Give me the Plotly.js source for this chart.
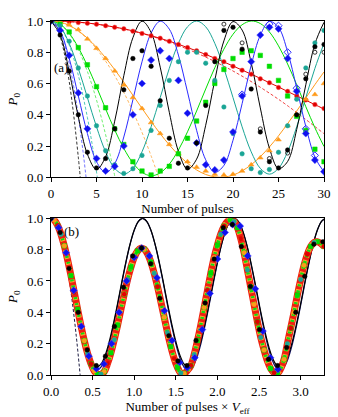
<!DOCTYPE html>
<html><head><meta charset="utf-8">
<script src="https://cdn.plot.ly/plotly-3.0.1.min.js"></script>
<style>html,body{margin:0;padding:0;background:#fff;}#chart{width:338px;height:417px;}</style>
</head><body><div id="chart"></div>
<script>
// ---------- Panel (a): number of pulses ----------
const pulses = [0,1,2,3,4,5,6,7,8,9,10,11,12,13,14,15,16,17,18,19,20,21,22,23,24,25,26,27,28,29,30];

// theory (solid) curves
const blackLine  = [1.000,0.911,0.677,0.387,0.148,0.050,0.131,0.359,0.650,0.893,0.999,0.927,0.705,0.416,0.167,0.052,0.116,0.333,0.621,0.873,0.996,0.942,0.732,0.444,0.187,0.056,0.101,0.306,0.592,0.853,0.992];
const blueLine   = [1.000,0.936,0.761,0.521,0.280,0.100,0.030,0.088,0.258,0.496,0.739,0.923,0.999,0.948,0.782,0.546,0.301,0.112,0.032,0.076,0.237,0.471,0.717,0.909,0.997,0.959,0.803,0.571,0.325,0.129,0.034];
const tealLine   = [1.000,0.963,0.857,0.697,0.510,0.323,0.163,0.057,0.020,0.057,0.163,0.323,0.510,0.697,0.857,0.963,1.000,0.963,0.857,0.697,0.510,0.323,0.163,0.057,0.020,0.057,0.163,0.323,0.510,0.697,0.857];
const greenLine  = [1.000,0.980,0.922,0.831,0.713,0.579,0.438,0.303,0.185,0.092,0.032,0.010,0.028,0.084,0.174,0.291,0.424,0.565,0.701,0.820,0.915,0.976,1.000,0.984,0.930,0.841,0.725,0.592,0.452,0.317,0.197];
const orangeLine = [1.000,0.993,0.972,0.937,0.890,0.832,0.764,0.689,0.609,0.525,0.441,0.358,0.279,0.207,0.144,0.090,0.047,0.018,0.003,0.001,0.014,0.041,0.080,0.132,0.194,0.265,0.343,0.424,0.508,0.593,0.674];
const redLine    = [1.000,0.999,0.997,0.993,0.987,0.980,0.971,0.961,0.950,0.937,0.922,0.906,0.889,0.871,0.851,0.830,0.809,0.786,0.762,0.738,0.712,0.686,0.660,0.633,0.605,0.578,0.549,0.521,0.493,0.465,0.437];

// short-time (dashed) approximations
const blackDashN  = [0,0.5,1,1.5,2,2.5,3,3.215];
const blackDash   = [1,0.976,0.903,0.782,0.613,0.395,0.129,0];
const blueDashN   = [0,0.5,1,1.5,2,2.5,3,3.5,3.852];
const blueDash    = [1,0.983,0.933,0.848,0.730,0.579,0.393,0.174,0];
const tealDashN   = [0,1,2,3,4,4.5,5.093];
const tealDash    = [1,0.961,0.846,0.653,0.383,0.219,0];
const greenDashN  = [0,1,2,3,4,5,6,6.5,7.035];
const greenDash   = [1,0.980,0.919,0.818,0.677,0.495,0.273,0.146,0];
const orangeDashN = [0,2,4,6,8,10,11,11.84];
const orangeDash  = [1,0.971,0.886,0.743,0.543,0.287,0.137,0];
const redDashN    = [0,5,10,15,20,25,30];
const redDash     = [1,0.980,0.920,0.820,0.680,0.499,0.279];

// measured points
const blackPts  = [1.00,0.91,0.68,0.40,0.16,0.06,0.12,0.31,0.56,0.76,0.81,0.71,0.49,0.25,0.09,0.06,0.22,0.46,0.74,0.94,0.96,0.82,0.565,0.29,0.10,0.06,0.175,0.40,0.63,0.835,0.85];
const bluePts   = [1.00,0.94,0.78,0.54,0.31,0.12,0.04,0.07,0.20,0.40,0.60,0.75,0.81,0.76,0.62,0.41,0.22,0.08,0.047,0.11,0.29,0.52,0.74,0.91,0.96,0.95,0.76,0.55,0.28,0.11,0.036];
const tealPts   = [1.00,0.97,0.87,0.70,0.52,0.33,0.17,0.08,0.025,0.055,0.14,0.30,0.46,0.62,0.74,0.80,0.80,0.73,0.62,0.45,0.28,0.15,0.055,0.03,0.05,0.16,0.33,0.50,0.70,0.86,0.94];
const greenPts  = [1.00,0.98,0.93,0.83,0.72,0.58,0.445,0.31,0.21,0.10,0.04,0.015,0.04,0.07,0.15,0.25,0.36,0.48,0.60,0.69,0.76,0.80,0.81,0.78,0.71,0.62,0.52,0.39,0.30,0.18,0.10];
const orangePts = [1.00,0.995,0.975,0.945,0.885,0.825,0.76,0.68,0.59,0.51,0.44,0.35,0.28,0.21,0.15,0.10,0.065,0.04,0.02,0.015,0.02,0.04,0.08,0.125,0.17,0.24,0.33,0.40,0.50,0.53,0.60];
const redPts    = [1.00,1.00,0.995,0.99,0.985,0.98,0.97,0.96,0.95,0.935,0.92,0.905,0.89,0.87,0.85,0.83,0.81,0.785,0.76,0.74,0.71,0.685,0.66,0.63,0.605,0.575,0.55,0.52,0.495,0.465,0.44];
const blackOpenN = [19,21,23,24,26,28,29,30];
const blackOpen  = [0.98,0.86,0.31,0.12,0.155,0.66,0.80,0.80];
const blueOpenN  = [21,24,25,26,27,28,29];
const blueOpen   = [0.53,0.98,0.97,0.80,0.57,0.31,0.14];

// ---------- Panel (b): number of pulses x V_eff ----------
const veffBlack = 0.1089, veffBlue = 0.0909;
const scaledX = [0,0.05,0.1,0.15,0.2,0.25,0.3,0.35,0.4,0.45,0.5,0.55,0.6,0.65,0.7,0.75,0.8,0.85,0.9,0.95,1.0,1.05,1.1,1.15,1.2,1.25,1.3,1.35,1.4,1.45,1.5,1.55,1.6,1.65,1.7,1.75,1.8,1.85,1.9,1.95,2.0,2.05,2.1,2.15,2.2,2.25,2.3,2.35,2.4,2.45,2.5,2.55,2.6,2.65,2.7,2.75,2.8,2.85,2.9,2.95,3.0,3.05,3.1,3.15,3.2,3.25,3.3];
const scaledBlack = [1.000,0.981,0.925,0.836,0.722,0.593,0.457,0.328,0.214,0.125,0.069,0.050,0.069,0.125,0.214,0.328,0.457,0.593,0.722,0.836,0.925,0.981,1.000,
  0.981,0.925,0.836,0.722,0.593,0.457,0.328,0.214,0.125,0.069,0.050,0.069,0.125,0.214,0.328,0.457,0.593,0.722,0.836,0.925,0.981,1.000,
  0.981,0.925,0.836,0.722,0.593,0.457,0.328,0.214,0.125,0.069,0.050,0.069,0.125,0.214,0.328,0.457,0.593,0.722,0.836,0.925,0.981,1.000];
const scaledNavy = [1.000,0.980,0.923,0.833,0.716,0.584,0.446,0.314,0.197,0.107,0.050,0.030,0.050,0.107,0.197,0.314,0.446,0.584,0.716,0.833,0.923,0.980,1.000,
  0.980,0.923,0.833,0.716,0.584,0.446,0.314,0.197,0.107,0.050,0.030,0.050,0.107,0.197,0.314,0.446,0.584,0.716,0.833,0.923,0.980,1.000,
  0.980,0.923,0.833,0.716,0.584,0.446,0.314,0.197,0.107,0.050,0.030,0.050,0.107,0.197,0.314,0.446,0.584,0.716,0.833,0.923,0.980,1.000];
const scaledDashX = [0,0.05,0.1,0.15,0.2,0.25,0.3,0.35];
const scaledDash  = [1,0.980,0.918,0.816,0.674,0.490,0.266,0.001];
// all-series data band
const bandX = [0,0.04,0.08,0.12,0.16,0.2,0.24,0.28,0.32,0.36,0.4,0.44,0.48,0.52,0.56,0.6,0.64,0.68,0.72,0.76,0.8,0.84,0.88,0.92,0.96,1.0,1.04,1.08,1.12,1.16,1.2,1.24,1.28,1.32,1.36,1.4,1.44,1.48,1.52,1.56,1.6,1.64,1.68,1.72,1.76,1.8,1.84,1.88,1.92,1.96,2.0,2.04,2.08,2.12,2.16,2.2,2.24,2.28,2.32,2.36,2.4,2.44,2.48,2.52,2.56,2.6,2.64,2.68,2.72,2.76,2.8,2.84,2.88,2.92,2.96,3.0,3.04,3.08,3.12,3.16,3.2,3.24,3.28];
const bandY = [1.000,0.988,0.954,0.898,0.824,0.734,0.634,0.527,0.419,0.315,0.219,0.137,0.072,0.026,0.005,0.005,0.022,0.074,0.142,0.225,0.318,0.418,0.516,0.608,0.687,0.750,0.791,0.809,0.803,0.773,0.720,0.649,0.563,0.467,0.368,0.270,0.181,0.105,0.048,0.012,0.010,0.030,0.060,0.130,0.220,0.320,0.430,0.540,0.650,0.750,0.830,0.900,0.950,0.980,0.990,0.980,0.940,0.870,0.780,0.670,0.560,0.450,0.340,0.240,0.160,0.090,0.040,0.015,0.010,0.040,0.100,0.200,0.300,0.400,0.510,0.610,0.700,0.770,0.820,0.845,0.850,0.840,0.820];

const C = {black:'#000000', blue:'#1010f0', teal:'#1aa595', green:'#00dd00', orange:'#ff9a1a', red:'#e00000'};
const traces = [];
function line(x,y,color,ax,dash,w){traces.push({x:x,y:y,type:'scatter',mode:'lines',xaxis:ax[0],yaxis:ax[1],line:{color:color,width:w||1,dash:dash||'solid',shape:'spline',smoothing:1},hoverinfo:'skip'});}
function pts(x,y,color,symbol,size,ax,lc){traces.push({x:x,y:y,type:'scatter',mode:'markers',xaxis:ax[0],yaxis:ax[1],marker:{color:color,symbol:symbol,size:size,line:{color:lc||color,width:symbol.indexOf('open')>=0?1:0.5}},hoverinfo:'skip'});}
const A=['x','y'], B=['x2','y2'];
// panel a lines
line(redDashN,redDash,'#f04040',A,'3px,2px',1);
line(orangeDashN,orangeDash,'#ffb860',A,'3px,2px',1);
line(greenDashN,greenDash,'#70ee70',A,'3px,2px',1);
line(tealDashN,tealDash,'#50c8b8',A,'3px,2px',1);
line(blueDashN,blueDash,'#7070ff',A,'3px,2px',1);
line(blackDashN,blackDash,'#333333',A,'3px,2px',1);
line(pulses,redLine,C.red,A);
line(pulses,orangeLine,C.orange,A);
line(pulses,greenLine,C.green,A);
line(pulses,tealLine,C.teal,A);
line(pulses,blueLine,'#2a2aff',A);
line(pulses,blackLine,C.black,A);
// panel a points
pts(pulses,redPts,C.red,'circle',4.5,A,'#ff5050');
pts(pulses,orangePts,C.orange,'triangle-up',5,A);
pts(pulses,greenPts,C.green,'square',4.5,A);
pts(pulses,tealPts,C.teal,'circle',4.5,A);
pts(blueOpenN,blueOpen,'#3030ff','diamond-open',5.5,A);
pts(blackOpenN,blackOpen,'#333333','circle-open',4,A);
pts(pulses,bluePts,C.blue,'diamond',5.5,A,'#4a4aff');
pts(pulses,blackPts,C.black,'circle',4.5,A);
// panel b
line(scaledX,scaledNavy,'#101060',B,'solid',1.2);
line(scaledX,scaledBlack,'#000000',B,'solid',1.2);
line(scaledDashX,scaledDash,'#1a1a40',B,'3px,2px',1);
const pick=(arr,m,r)=>arr.filter((v,i)=>i%m===r);
line(bandX,bandY,'#ee2010',B,'solid',7);
line(bandX,bandY,'#ffa030',B,'3px,3px',5);
line(bandX,bandY,'#10dd10',B,'2px,4px',3.5);
pts(pick(bandX,2,0),pick(bandY,2,0),C.green,'square',4.5,B);
pts(pick(bandX,3,1),pick(bandY,3,1),C.orange,'circle',4.5,B);
pts(pick(bandX,4,3),pick(bandY,4,3),C.teal,'circle',4.5,B);
pts(pick(bandX,5,2),pick(bandY,5,2),C.red,'circle',4.5,B);
pts(pulses.map(n=>n*veffBlue),bluePts,C.blue,'diamond',5.5,B,'#4a4aff');
pts(pulses.map(n=>n*veffBlack),blackPts,C.black,'circle',4.5,B);

const font = {family:'"Liberation Serif", "DejaVu Serif", serif', size:13, color:'#000'};
function xa(range,dtick,fmt,title,anchor){return {range:range,dtick:dtick,tick0:0,tickformat:fmt,anchor:anchor,domain:[0,1],ticks:'outside',ticklen:4,tickwidth:1,tickcolor:'#000',showline:true,linecolor:'#000',linewidth:1.2,mirror:true,showgrid:false,zeroline:false,tickfont:font,title:{text:title,font:font,standoff:3}};}
function ya(domain,anchor){return {range:[0,1],dtick:0.2,tickformat:'.1f',domain:domain,anchor:anchor,ticks:'outside',ticklen:4,tickwidth:1,tickcolor:'#000',showline:true,linecolor:'#000',linewidth:1.2,mirror:true,showgrid:false,zeroline:false,tickfont:font,title:{text:'<i>P</i><sub>0</sub>',font:font,standoff:6}};}
const layout = {
  width:338,height:417,margin:{l:51,r:14,t:21,b:42},
  paper_bgcolor:'#fff',plot_bgcolor:'#fff',showlegend:false,font:font,
  xaxis:xa([0,30],5,'d','Number of pulses','y'),
  yaxis:ya([0.5585,1],'x'),
  xaxis2:xa([0,3.28],0.5,'.1f','Number of pulses × <i>V</i><sub>eff</sub>','y2'),
  yaxis2:ya([0,0.4427],'x2'),
  annotations:[
    {xref:'x',yref:'y',x:0.1,y:0.70,text:'(a)',showarrow:false,xanchor:'left',font:font},
    {xref:'x2',yref:'y2',x:0.13,y:0.915,text:'(b)',showarrow:false,xanchor:'left',font:font}
  ]
};
Plotly.newPlot('chart',traces,layout,{staticPlot:true,displayModeBar:false});
</script></body></html>
